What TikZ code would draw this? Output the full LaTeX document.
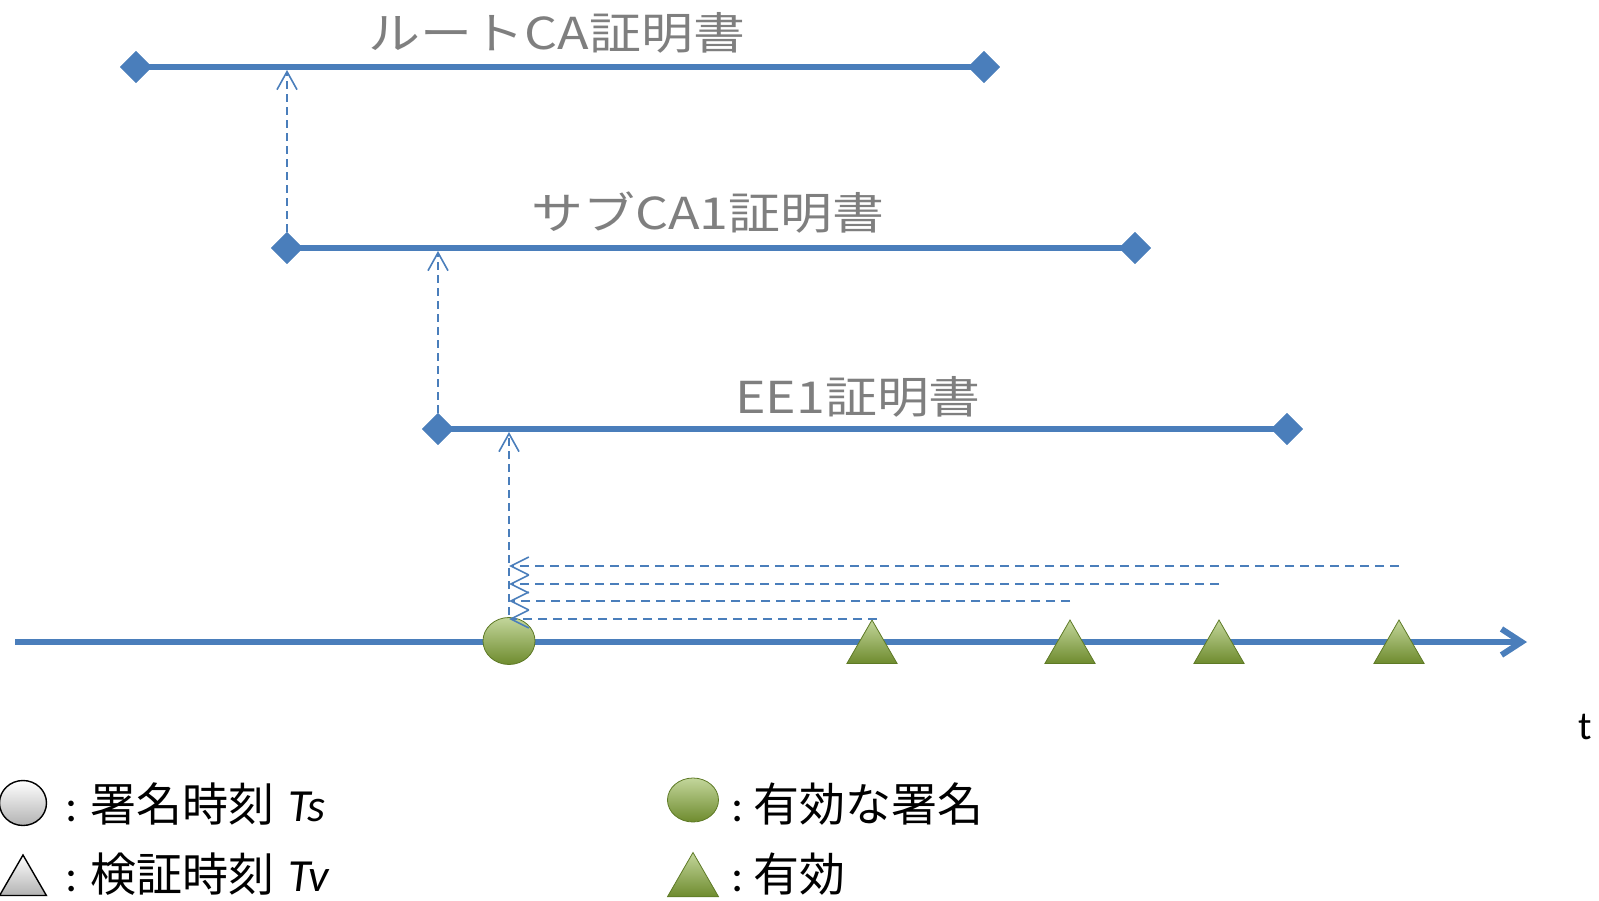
\documentclass[tikz,border=0pt]{standalone}
\usepackage{fontspec}
\usetikzlibrary{arrows.meta,shapes.geometric}
\newfontfamily\jp{Noto Sans CJK JP}
\newfontfamily\lat{Carlito}
\definecolor{lineblue}{HTML}{4A7EBB}
\definecolor{labgray}{HTML}{7F7F7F}
\definecolor{gtop}{HTML}{C3D69B}
\definecolor{gbot}{HTML}{6E8B2E}
\definecolor{gedge}{HTML}{5E7A26}
\newcommand{\widelab}[1]{\scalebox{1.18}[1]{#1}}
\tikzset{
  certline/.style={draw=lineblue, line width=6pt},
  endmark/.style={diamond, fill=lineblue, minimum width=32pt, minimum height=32pt, inner sep=0pt},
  certlabel/.style={text=labgray, font=\jp\fontsize{44}{50}\selectfont, inner sep=0pt},
  uparrow/.style={draw=lineblue, line width=1.6pt, dash pattern=on 8pt off 5pt, -{Straight Barb[length=18pt,width=20pt,line width=1.6pt]}},
  backarrow/.style={draw=lineblue, line width=1.6pt, dash pattern=on 9pt off 6pt, -{Straight Barb[length=18pt,width=18pt,line width=1.6pt]}},
  validsig/.style={ellipse, minimum width=52pt, minimum height=47pt, inner sep=0pt, top color=gtop, bottom color=gbot, draw=gedge, line width=0.8pt},
  validtri/.style={regular polygon, regular polygon sides=3, minimum size=58pt, inner sep=0pt, top color=gtop, bottom color=gbot, draw=gedge, line width=0.8pt},
  graysig/.style={ellipse, minimum width=47pt, minimum height=45pt, inner sep=0pt, top color=white, bottom color=black!30, draw=black, line width=1.4pt},
  graytri/.style={regular polygon, regular polygon sides=3, minimum size=54pt, inner sep=0pt, top color=white, bottom color=black!30, draw=black, line width=1.4pt},
  legtext/.style={anchor=base west, inner sep=0pt, font=\jp\fontsize{46}{52}\selectfont},
}
\begin{document}
\begin{tikzpicture}[x=1pt,y=-1pt]
\useasboundingbox (0,0) rectangle (1599,901);
% certificate lines
\node[endmark] (rootL) at (136,67) {};
\node[endmark] (rootR) at (984,67) {};
\node[endmark] (subL) at (287,248) {};
\node[endmark] (subR) at (1135,248) {};
\node[endmark] (eeL) at (438,429) {};
\node[endmark] (eeR) at (1287,429) {};
\draw[certline] (rootL.center) -- (rootR.center);
\draw[certline] (subL.center) -- (subR.center);
\draw[certline] (eeL.center) -- (eeR.center);
\node[endmark] at (rootL) {};
\node[endmark] at (rootR) {};
\node[endmark] at (subL) {};
\node[endmark] at (subR) {};
\node[endmark] at (eeL) {};
\node[endmark] at (eeR) {};
\node[certlabel] (rootlab) at (557,33) {\widelab{ルートCA証明書}};
\node[certlabel] (sublab) at (708,213) {\widelab{サブCA1証明書}};
\node[certlabel] (eelab) at (858,397) {\widelab{EE1証明書}};
% chain arrows
\coordinate (rootHit) at (287,70);
\coordinate (subHit) at (438,251);
\coordinate (eeHit) at (509,432);
\draw[uparrow] (subL.north) -- (rootHit);
\draw[uparrow] (eeL.north) -- (subHit);
% time axis
\coordinate (axS) at (15,642);
\coordinate (axE) at (1527,642);
\draw[draw=lineblue, line width=6pt, -{Straight Barb[length=20pt,width=26pt,line width=6pt]}] (axS) -- (axE);
\node[inner sep=0pt, font=\lat\fontsize{40}{46}\selectfont] (tlab) at (1585,727) {t};
% signature and verification points
\coordinate (sig) at (509,641);
\draw[uparrow] (sig) -- (eeHit);
\node[validsig] (sigdot) at (sig) {};
\node[validtri] (v1) at (872,649) {};
\node[validtri] (v2) at (1070,649) {};
\node[validtri] (v3) at (1219,649) {};
\node[validtri] (v4) at (1399,649) {};
\coordinate (h1) at (1399,566); \coordinate (k1) at (509,566);
\coordinate (h2) at (1219,584); \coordinate (k2) at (509,584);
\coordinate (h3) at (1070,601); \coordinate (k3) at (509,601);
\coordinate (h4) at (877,619);  \coordinate (k4) at (509,619);
\draw[backarrow] (h1) -- (k1);
\draw[backarrow] (h2) -- (k2);
\draw[backarrow] (h3) -- (k3);
\draw[backarrow] (h4) -- (k4);
% legend
\node[graysig] (lg1) at (23,803) {};
\node[graytri] (lg2) at (23,882) {};
\node[legtext] (lt1) at (65,821) {{\lat :}\hspace{13pt}署名時刻\hspace{14pt}{\lat\itshape Ts}};
\node[legtext] (lt2) at (65,891) {{\lat :}\hspace{13pt}検証時刻\hspace{14pt}{\lat\itshape Tv}};
\node[validsig, minimum width=51pt, minimum height=44pt] (lg3) at (693,800) {};
\node[validtri, minimum size=59pt] (lg4) at (693,882) {};
\node[legtext] (lt3) at (731,821) {{\lat :}\hspace{10pt}有効な署名};
\node[legtext] (lt4) at (731,891) {{\lat :}\hspace{10pt}有効};
\end{tikzpicture}
\end{document}
